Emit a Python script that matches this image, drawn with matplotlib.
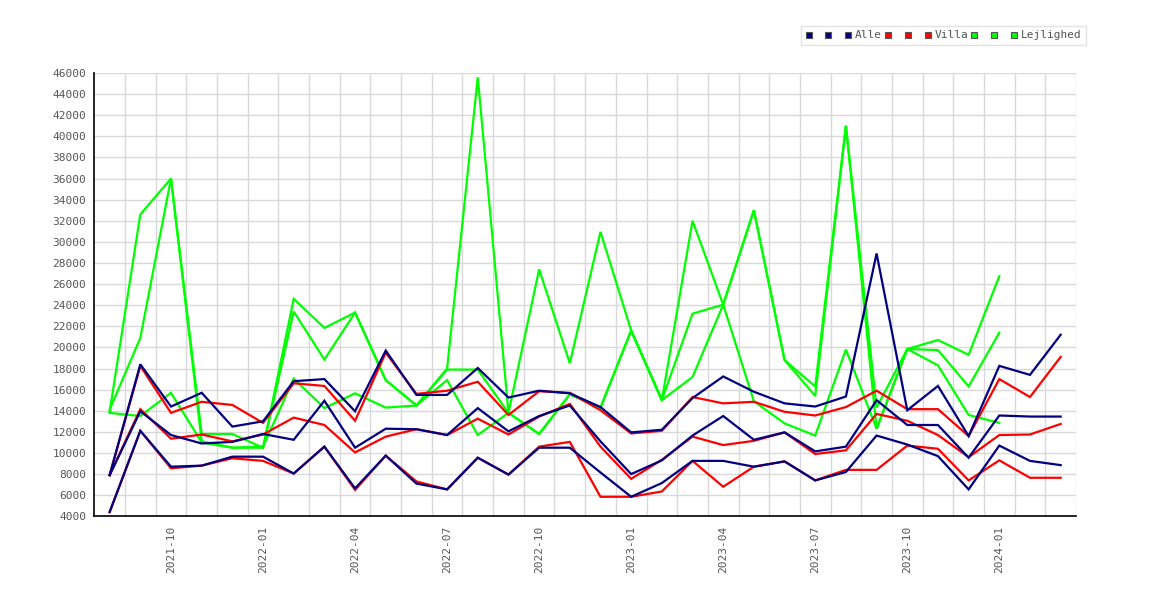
import numpy as np
import pandas as pd
import matplotlib
matplotlib.use("Agg")
import matplotlib.pyplot as plt
from matplotlib.lines import Line2D

months = [p.strftime("%Y-%m") for p in pd.period_range("2021-08", periods=32, freq="M")]
nan = np.nan

alle_1 = [7900, 18400, 14400, 15700, 12500, 13000, 16800, 17000, 13950, 19700, 15500, 15500,
          18050, 15250, 15900, 15650, 14350, 11950, 12200, 15200, 17250, 15800, 14700, 14400,
          15350, 28900, 14050, 16350, 11600, 18250, 17400, 21200]
alle_2 = [7900, 13950, 11700, 10900, 11050, 11800, 11250, 14950, 10500, 12300, 12250, 11700,
          14250, 12050, 13500, 14500, 11100, 8000, 9300, 11650, 13500, 11250, 11950, 10150,
          10600, 15000, 12650, 12650, 9550, 13550, 13450, 13450]
alle_3 = [4400, 12100, 8700, 8800, 9650, 9650, 8050, 10600, 6650, 9750, 7100, 6550,
          9550, 7950, 10500, 10500, 8150, 5850, 7150, 9250, 9250, 8700, 9200, 7400,
          8200, 11650, 10800, 9700, 6550, 10700, 9250, 8850]

villa_1 = [7900, 18250, 13800, 14850, 14550, 12850, 16600, 16350, 13050, 19500, 15600, 15900,
           16750, 13600, 15850, 15700, 14050, 11850, 12100, 15300, 14700, 14850, 13900, 13550,
           14350, 15900, 14150, 14150, 11600, 17000, 15300, 19100]
villa_2 = [7900, 14150, 11350, 11750, 11100, 11750, 13350, 12650, 10050, 11550, 12250, 11700,
           13250, 11750, 13450, 14650, 10600, 7550, 9350, 11550, 10750, 11150, 11950, 9900,
           10250, 13700, 13050, 11700, 9600, 11700, 11750, 12750]
villa_3 = [4400, 12100, 8550, 8800, 9500, 9250, 8050, 10600, 6500, 9750, 7300, 6550,
           9550, 7950, 10600, 11050, 5850, 5850, 6350, 9250, 6800, 8700, 9200, 7400,
           8400, 8400, 10700, 10400, 7400, 9300, 7650, 7650]

lejl_1 = [13900, 32600, 36000, 11800, 11800, 10500, 24600, 21850, 23300, 16900, 14500, 18000,
          45600, 13800, 27400, 18500, 30950, 21600, 15000, 32000, 24050, 33000, 18800, 16300,
          41000, 14300, 19850, 20700, 19300, 26750, nan, nan]
lejl_2 = [14100, 20900, 36000, 11100, 10500, 10500, 23400, 18850, 23300, 16900, 14500, 17900,
          17900, 13800, 11800, 15550, 14300, 21600, 15000, 23200, 24050, 33000, 18800, 15400,
          41000, 12300, 19850, 19750, 16300, 21400, nan, nan]
lejl_3 = [13800, 13500, 15700, 11000, 10500, 10600, 17050, 14250, 15650, 14300, 14500, 16900,
          11700, 13800, 11800, 15550, 14300, 21600, 15000, 17200, 24050, 14900, 12800, 11650,
          19800, 12300, 19850, 18300, 13600, 12850, nan, nan]

categories = ["Alle", "Villa", "Lejlighed"]
colors = {"Alle": "#000080", "Villa": "#ff0000", "Lejlighed": "#00ff00"}
series = {"Alle": [alle_1, alle_2, alle_3],
          "Villa": [villa_1, villa_2, villa_3],
          "Lejlighed": [lejl_1, lejl_2, lejl_3]}
zorders = {"Alle": 5, "Villa": 4, "Lejlighed": 3}

fig = plt.figure(figsize=(11.7, 6.0), dpi=100)
ax = fig.add_axes([94.3 / 1170, 1 - 516.3 / 600, (1076 - 94.3) / 1170, (516.3 - 73) / 600])

x = np.arange(len(months))
for cat in categories:
    for s in series[cat]:
        ax.plot(x, s, color=colors[cat], lw=1.6, zorder=zorders[cat], solid_joinstyle="miter")

ax.set_xlim(-0.5, len(months) - 0.5)
ax.set_ylim(4000, 46000)
ax.set_yticks(np.arange(4000, 46001, 2000))
tick_idx = list(range(2, len(months), 3))
ax.set_xticks(tick_idx)
ax.set_xticklabels([months[i] for i in tick_idx], rotation=90)
ax.set_xticks(np.arange(0.5, len(months), 1), minor=True)

ax.grid(True, which="major", axis="y", color="#d9d9d9", lw=1, zorder=0)
ax.grid(True, which="minor", axis="x", color="#d9d9d9", lw=1, zorder=0)
ax.set_axisbelow(True)

for sp in ["top", "right"]:
    ax.spines[sp].set_visible(False)
for sp in ["left", "bottom"]:
    ax.spines[sp].set_color("black")
    ax.spines[sp].set_linewidth(1.2)

ax.tick_params(axis="both", which="both", length=0, colors="#555555", labelsize=8)
ax.tick_params(axis="y", pad=6)
ax.tick_params(axis="x", pad=7)
for lab in ax.get_xticklabels() + ax.get_yticklabels():
    lab.set_family("DejaVu Sans Mono")
    lab.set_color("#555555")

handles, labels = [], []
for cat in categories:
    for k in range(3):
        handles.append(Line2D([], [], marker="s", linestyle="none", markersize=5,
                              markerfacecolor=colors[cat], markeredgecolor="#555555",
                              markeredgewidth=0.8))
        labels.append(cat if k == 2 else " ")

leg = fig.legend(handles, labels, ncol=9, loc="upper right",
                 bbox_to_anchor=(1086 / 1170, 1 - 26 / 600),
                 prop={"family": "DejaVu Sans Mono", "size": 8},
                 handlelength=0.54, handletextpad=0.36, columnspacing=0.27,
                 borderpad=0.4, borderaxespad=0, frameon=True, fancybox=False,
                 labelcolor="#555555")
leg.get_frame().set_edgecolor("#dddddd")
leg.get_frame().set_linewidth(1)

fig.savefig("out.png", dpi=100)
